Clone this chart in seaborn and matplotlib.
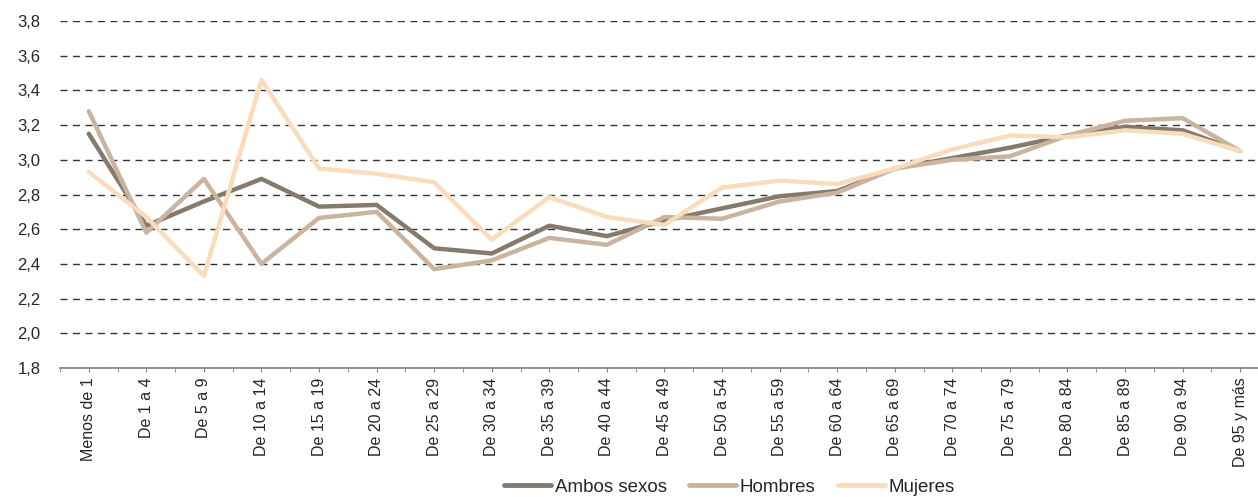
import numpy as np
import pandas as pd
import matplotlib
matplotlib.use("Agg")
import matplotlib.pyplot as plt
import seaborn as sns
from matplotlib.ticker import FuncFormatter, MultipleLocator

grupos = ["Menos de 1", "De 1 a 4", "De 5 a 9", "De 10 a 14", "De 15 a 19",
          "De 20 a 24", "De 25 a 29", "De 30 a 34", "De 35 a 39", "De 40 a 44",
          "De 45 a 49", "De 50 a 54", "De 55 a 59", "De 60 a 64", "De 65 a 69",
          "De 70 a 74", "De 75 a 79", "De 80 a 84", "De 85 a 89", "De 90 a 94",
          "De 95 y más"]

ambos = [3.15, 2.62, 2.76, 2.89, 2.73, 2.74, 2.49, 2.46, 2.62, 2.56, 2.65,
         2.72, 2.79, 2.82, 2.95, 3.01, 3.07, 3.14, 3.19, 3.17, 3.05]
hombres = [3.28, 2.58, 2.89, 2.40, 2.665, 2.70, 2.37, 2.42, 2.55, 2.51, 2.67,
           2.66, 2.76, 2.81, 2.95, 3.00, 3.02, 3.14, 3.225, 3.24, 3.05]
mujeres = [2.93, 2.67, 2.33, 3.46, 2.95, 2.92, 2.87, 2.54, 2.785, 2.67, 2.625,
           2.84, 2.88, 2.86, 2.95, 3.06, 3.14, 3.13, 3.17, 3.15, 3.05]

series = ["Ambos sexos", "Hombres", "Mujeres"]
colores = ["#857a6e", "#c9b49f", "#f8dcbc"]

df = pd.DataFrame({
    "grupo": grupos * 3,
    "valor": ambos + hombres + mujeres,
    "serie": np.repeat(series, len(grupos)),
})

sns.set_style("white")
plt.rcParams["font.family"] = ["Liberation Sans", "DejaVu Sans"]

fig = plt.figure(figsize=(12.58, 4.97), dpi=100)
ax = fig.add_axes([0.0477, 0.2596, 0.961, 0.6981])

sns.lineplot(data=df, x="grupo", y="valor", hue="serie", palette=colores,
             hue_order=series, sort=False, linewidth=3.2, ax=ax, legend=False)

ax.set_xlim(-0.5, len(grupos) - 0.5)
ax.set_ylim(1.8, 3.8)
ax.yaxis.set_major_locator(MultipleLocator(0.2))
ax.yaxis.set_major_formatter(FuncFormatter(lambda v, p: f"{v:.1f}".replace(".", ",")))
ax.yaxis.grid(True, linestyle=(0, (5, 4)), color="#333333", linewidth=1)
ax.set_axisbelow(True)

for s in ["left", "right", "top"]:
    ax.spines[s].set_visible(False)
ax.spines["bottom"].set_color("#808080")
ax.spines["bottom"].set_linewidth(1.2)

ax.set_xticks(range(len(grupos)))
ax.set_xticklabels(grupos, rotation=90, fontsize=11.5)
ax.set_xticks(np.arange(-0.5, len(grupos), 1), minor=True)
ax.tick_params(axis="x", which="both", direction="out", length=3,
               color="#808080", bottom=True, pad=4)
ax.tick_params(axis="y", length=0, labelsize=12, pad=14)
ax.set_xlabel("")
ax.set_ylabel("")

handles = [plt.Line2D([], [], color=c, lw=3.5) for c in colores]
fig.legend(handles, series, loc="center", bbox_to_anchor=(0.58, 0.02),
           ncol=3, frameon=False, fontsize=13.5, handlelength=2.5,
           handletextpad=0.2, columnspacing=1.2)

fig.savefig("out.png", dpi=100)
